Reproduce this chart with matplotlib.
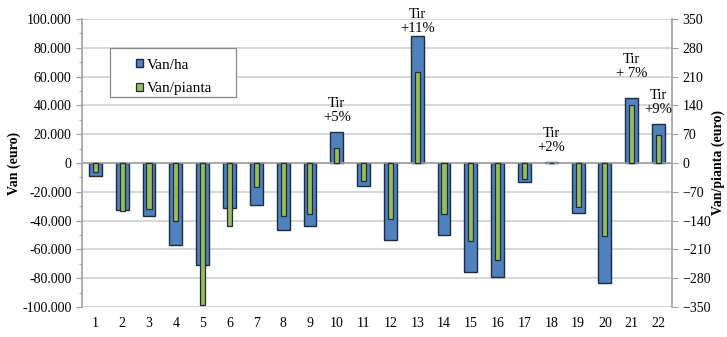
import matplotlib
matplotlib.use("Agg")
import matplotlib.pyplot as plt
from matplotlib.patches import Rectangle
from matplotlib.ticker import FuncFormatter, MultipleLocator

plt.rcParams['font.family'] = ['Liberation Serif', 'DejaVu Serif']

# data
categories = list(range(1, 23))
van_ha = [-9300, -32400, -37000, -56700, -70500, -31200, -29100, -46500, -43700, 21200, -16000,
          -53700, 88500, -49700, -75900, -79100, -13400, 800, -34700, -83300, 45100, 27300]
van_pianta = [-22, -117, -111, -142, -344, -154, -59, -130, -123, 37, -43,
              -135, 222, -123, -189, -235, -39, 1, -107, -178, 142, 69]
tir_cats = [10, 13, 18, 21, 22]
tir_texts = ["Tir\n+5%", "Tir\n+11%", "Tir\n+2%", "Tir\n+ 7%", "Tir\n+9%"]
tir_y = [36300, 98000, 15500, 67100, 42200]  # label centres, left-axis units

blue = "#4F81BD"
green = "#9BBB59"
edge = "#1c2b3f"
grid_col = "#d0d0d0"
axis_col = "#a0a0a0"

fig = plt.figure(figsize=(7.27, 3.37), dpi=100)
ax = fig.add_axes([0.1128, 0.089, 0.8115, 0.8547])
ax2 = ax.twinx()

b1 = ax.bar(categories, van_ha, width=0.48, color=blue, edgecolor=edge, linewidth=1.0, zorder=3)
b2 = ax2.bar(categories, van_pianta, width=0.19, color=green, edgecolor=edge, linewidth=0.9, zorder=3)

ax.set_ylim(-100000, 100000)
ax2.set_ylim(-350, 350)
ax.set_xlim(0.5, 22.5)
ax.yaxis.set_major_locator(MultipleLocator(20000))
ax.yaxis.set_minor_locator(MultipleLocator(10000))
ax2.yaxis.set_major_locator(MultipleLocator(70))

def it_fmt(v, pos):
    return f"{v:,.0f}".replace(",", ".")

ax.yaxis.set_major_formatter(FuncFormatter(it_fmt))
ax.set_xticks(categories)
ax.set_xticklabels([str(c) for c in categories])

ax.grid(axis='y', color=grid_col, linewidth=1.2, zorder=0)
ax.set_axisbelow(True)
ax.axhline(0, color=axis_col, linewidth=1.2, zorder=4)

for a in (ax, ax2):
    for s in ('top', 'bottom'):
        a.spines[s].set_visible(False)
ax.spines['right'].set_visible(False)
ax2.spines['left'].set_visible(False)
ax.spines['left'].set_color(axis_col)
ax.spines['left'].set_linewidth(1.2)
ax2.spines['right'].set_color(axis_col)
ax2.spines['right'].set_linewidth(1.2)

ax.tick_params(axis='y', which='both', color=axis_col, labelsize=10, length=4)
ax.tick_params(axis='y', which='minor', length=2.5)
ax2.tick_params(axis='y', color=axis_col, labelsize=10, length=4)
ax.tick_params(axis='x', length=0, labelsize=10, pad=7)

ax.set_ylabel("Van (euro)", fontweight='bold', fontsize=10, labelpad=1)
ax2.set_ylabel("Van/pianta (euro)", fontweight='bold', fontsize=10, rotation=90, labelpad=0)

for cat, txt, ty in zip(tir_cats, tir_texts, tir_y):
    ax2.text(cat, ty, txt, transform=ax.transData, ha='center', va='center',
             fontsize=10.5, linespacing=1.1, zorder=5)

# legend box drawn separately so entries can sit with wide left padding
ax2.add_patch(Rectangle((0.0475, 0.729), 0.2136, 0.17, transform=ax.transAxes,
                        facecolor='white', edgecolor='#888888', linewidth=0.9, zorder=6))
leg = ax2.legend([b1, b2], ["Van/ha", "Van/pianta"], loc='upper left',
                 bbox_to_anchor=(0.092, 0.862), bbox_transform=ax.transAxes,
                 frameon=False, fontsize=11, handlelength=0.45, handleheight=0.45,
                 borderpad=0, labelspacing=0.68, handletextpad=0.25, borderaxespad=0)
leg.set_zorder(7)

fig.savefig("out.png", dpi=100)
